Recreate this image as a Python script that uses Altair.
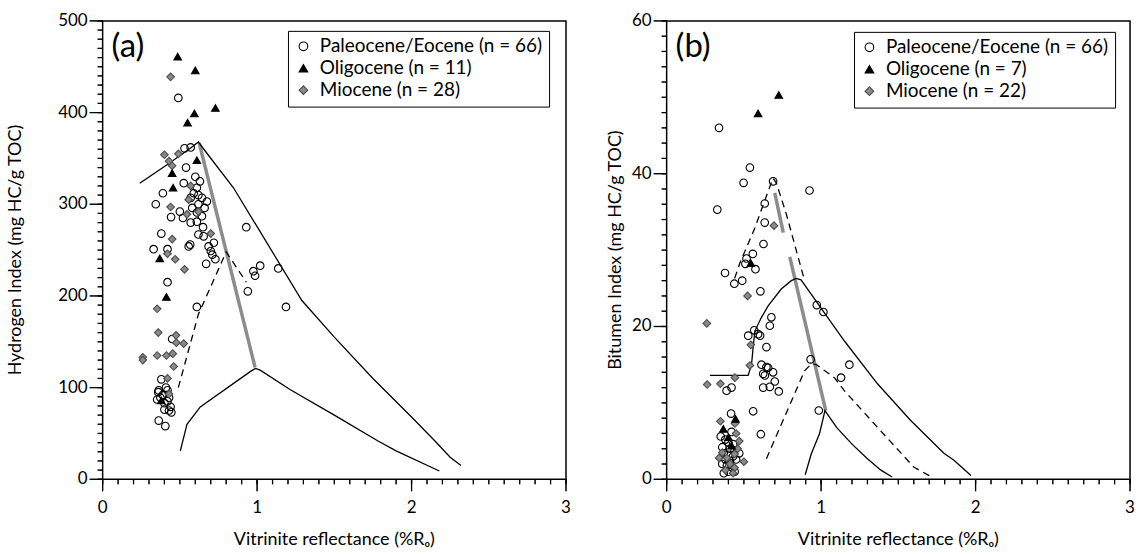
import altair as alt
import pandas as pd

FONT = "Lato"

# ---------------- Panel (a): Hydrogen Index ----------------
a_labels = ["Paleocene/Eocene (n = 66)", "Oligocene (n = 11)", "Miocene (n = 28)"]

a_pal_x = [0.49, 0.53, 0.57, 0.54, 0.525, 0.39, 0.61, 0.59, 0.344, 0.57,
           0.643, 0.675, 0.62, 0.50, 0.443, 0.52, 0.61, 0.643, 0.61, 0.93,
           0.38, 0.62, 0.654, 0.33, 0.42, 0.557, 0.567, 0.686, 0.70, 0.71,
           0.73, 0.67, 0.976, 1.02, 0.987, 1.137, 0.42, 0.94, 1.187, 0.61,
           0.45, 0.38, 0.363, 0.42, 0.43, 0.374, 0.353, 0.40, 0.44, 0.445,
           0.40, 0.363, 0.406, 0.43, 0.60, 0.63, 0.58, 0.66, 0.65, 0.72,
           0.62, 0.57, 0.36, 0.39, 0.42, 0.41]
a_pal_y = [416, 361, 362, 340, 323, 312, 318, 312, 300, 307,
           307, 303, 300, 292, 286, 285, 291, 287, 281, 275,
           268, 267, 265, 251, 251, 254, 256, 254, 249, 245,
           240, 235, 227, 233, 222, 230, 215, 205, 188, 188,
           153, 109, 97, 97, 89, 89, 87, 83, 79, 73,
           76, 64, 58, 75, 330, 325, 296, 296, 275, 258,
           310, 280, 95, 92, 85, 100]

a_oli_x = [0.486, 0.60, 0.73, 0.594, 0.55, 0.61, 0.45, 0.456, 0.37, 0.413, 0.38]
a_oli_y = [461, 446, 405, 399, 389, 348, 334, 318, 241, 199, 86]

a_mio_x = [0.44, 0.40, 0.49, 0.43, 0.45, 0.44, 0.546, 0.62, 0.557, 0.70,
           0.45, 0.42, 0.47, 0.53, 0.353, 0.36, 0.475, 0.477, 0.525, 0.26,
           0.26, 0.353, 0.413, 0.454, 0.46, 0.42, 0.43, 0.57]
a_mio_y = [439, 354, 355, 347, 342, 297, 289, 292, 305, 268,
           262, 246, 240, 229, 186, 160, 157, 149, 148, 133,
           130, 135, 135, 137, 123, 110, 93, 320]

# curves of panel (a)
a_outer_x = [0.24, 0.417, 0.568, 0.62, 0.655, 0.847, 1.29, 1.5, 1.75, 2.0, 2.15, 2.25, 2.32]
a_outer_y = [323, 343, 361, 368, 360, 318, 195, 155, 110, 68, 42, 24, 15]
a_inner_x = [0.503, 0.546, 0.632, 0.96, 0.99, 1.02, 1.213, 1.5, 1.78, 1.9, 2.18]
a_inner_y = [31, 60, 79, 118, 121, 119, 98, 70, 42, 31, 9]
a_dash_x = [0.49, 0.62, 0.80, 0.93]
a_dash_y = [100, 180, 248, 215]
a_gray_x = [0.625, 0.987]
a_gray_y = [367, 122]

# ---------------- Panel (b): Bitumen Index ----------------
b_labels = ["Paleocene/Eocene (n = 66)", "Oligocene (n = 7)", "Miocene (n = 22)"]

b_pal_x = [0.339, 0.539, 0.498, 0.689, 0.925, 0.328, 0.635, 0.635, 0.627, 0.558,
           0.517, 0.51, 0.575, 0.378, 0.438, 0.489, 0.607, 0.972, 1.015, 0.678,
           0.668, 0.567, 0.528, 0.592, 0.605, 0.646, 0.932, 1.183, 0.614, 0.646,
           0.689, 0.625, 1.129, 0.657, 0.636, 0.70, 0.668, 0.625, 0.726, 0.388,
           0.42, 0.985, 0.56, 0.61, 0.417, 0.38, 0.40, 0.43, 0.36, 0.41,
           0.44, 0.37, 0.40, 0.43, 0.38, 0.41, 0.45, 0.36, 0.39, 0.42,
           0.40, 0.44, 0.37, 0.47, 0.35, 0.42]
b_pal_y = [46.0, 40.8, 38.8, 39.0, 37.8, 35.3, 36.1, 33.6, 30.8, 29.5,
           28.9, 28.2, 27.5, 27.0, 25.6, 26.0, 24.6, 22.8, 21.9, 21.2,
           20.1, 19.5, 18.8, 19.0, 18.8, 17.3, 15.7, 15.0, 15.0, 14.7,
           14.0, 13.8, 13.3, 14.6, 13.6, 12.8, 12.1, 12.0, 11.5, 11.6,
           12.0, 9.0, 8.9, 5.9, 8.6, 5.2, 4.8, 4.6, 4.2, 4.0,
           3.8, 3.4, 3.2, 3.0, 2.6, 2.4, 2.6, 2.0, 1.8, 1.6,
           1.0, 1.0, 0.8, 3.4, 5.6, 6.2]

b_oli_x = [0.592, 0.726, 0.545, 0.446, 0.367, 0.40, 0.42]
b_oli_y = [47.9, 50.3, 28.3, 7.9, 6.6, 5.5, 4.4]

b_mio_x = [0.695, 0.524, 0.26, 0.545, 0.539, 0.442, 0.348, 0.262, 0.348, 0.442,
           0.45, 0.47, 0.46, 0.44, 0.39, 0.34, 0.50, 0.41, 0.44, 0.38, 0.36, 0.43]
b_mio_y = [33.2, 24.0, 20.4, 17.6, 14.9, 13.3, 12.5, 12.4, 7.6, 7.3,
           6.0, 5.0, 4.0, 3.3, 2.8, 2.8, 2.3, 2.0, 1.5, 1.2, 3.5, 0.8]

b_outer_x = [0.28, 0.528, 0.55, 0.56, 0.571, 0.614, 0.657, 0.742, 0.807, 0.839, 0.87,
             1.151, 1.365, 1.58, 1.795, 1.86, 1.97]
b_outer_y = [13.6, 13.6, 15.1, 17.3, 19.4, 21.2, 22.7, 24.9, 26.0, 26.3, 26.1,
             18.1, 12.5, 7.7, 3.4, 2.5, 0.5]
b_inner_x = [0.897, 0.936, 0.99, 1.025, 1.1, 1.2, 1.3, 1.387, 1.46]
b_inner_y = [0.6, 3.3, 6.0, 9.0, 6.8, 4.6, 2.7, 1.2, 0.3]
b_dash1_x = [0.44, 0.474, 0.571, 0.657, 0.689, 0.71, 0.775, 0.893]
b_dash1_y = [26.3, 28.3, 32.9, 37.7, 39.4, 38.8, 34.7, 26.0]
b_dash2_x = [0.646, 0.893, 0.936, 0.97, 1.086, 1.15, 1.365, 1.6, 1.716]
b_dash2_y = [2.7, 14.2, 15.1, 15.0, 13.3, 11.6, 6.8, 1.6, 0.3]
b_gray1_x = [0.70, 0.755]
b_gray1_y = [37.5, 32.3]
b_gray2_x = [0.797, 1.03]
b_gray2_y = [29.1, 9.0]

x_major = [0, 1, 2, 3]
x_minor = [round(i * 0.1, 1) for i in range(31)]
x_title = "Vitrinite reflectance (%Rₒ)"

PW, PH = 465, 460


def curve_df(curves):
    rows = []
    for name, xs, ys in curves:
        for i, (xv, yv) in enumerate(zip(xs, ys)):
            rows.append({"curve": name, "i": i, "v": xv, "y": yv})
    return pd.DataFrame(rows)


def build_panel(pal, oli, mio, labels, solid, dashed, gray, ymax, y_major, y_minor,
                y_title, y_title_x, tag, legend_x, legend_y):
    rows = []
    for (xs, ys), lab in [(pal, labels[0]), (mio, labels[2]), (oli, labels[1])]:
        for xv, yv in zip(xs, ys):
            rows.append({"v": xv, "y": yv, "series": lab})
    pts = pd.DataFrame(rows)

    xsc = alt.Scale(domain=[0, 3], nice=False, zero=False)
    ysc = alt.Scale(domain=[0, ymax], nice=False)

    def X():
        return alt.X("v:Q", scale=xsc, axis=None)

    def Y():
        return alt.Y("y:Q", scale=ysc, axis=None)

    leg = alt.Legend(title=None, orient="none", legendX=legend_x, legendY=legend_y,
                     strokeColor="black", fillColor="white", padding=6,
                     rowPadding=2, symbolSize=75, symbolStrokeWidth=1.1,
                     labelOffset=7, labelFontSize=19, labelFont=FONT,
                     labelColor="black", labelLimit=400)

    # tick marks as rules and as tick marks (both just outside the frame)
    def yticks(vals, length):
        df = pd.DataFrame({"y": vals, "k": ["t"] * len(vals)})
        r = alt.Chart(df).mark_rule(color="black", strokeWidth=1.2, clip=False).encode(
            y=Y(), x=alt.value(0), x2=alt.value(-length))
        t = alt.Chart(df).mark_tick(color="black", thickness=1.2, size=length,
                                    orient="horizontal", clip=False).encode(
            y=Y(), x=alt.value(-length / 2))
        return [r, t]

    def xticks(vals, length):
        df = pd.DataFrame({"v": vals, "k": ["t"] * len(vals)})
        r = alt.Chart(df).mark_rule(color="black", strokeWidth=1.2, clip=False).encode(
            x=X(), y=alt.value(PH), y2=alt.value(PH + length))
        t = alt.Chart(df).mark_tick(color="black", thickness=1.2, size=length,
                                    orient="vertical", clip=False).encode(
            x=X(), y=alt.value(PH + length / 2))
        return [r, t]

    ylab = alt.Chart(pd.DataFrame({"y": y_major, "t": [str(v) for v in y_major]})).mark_text(
        align="right", baseline="middle", fontSize=17, font=FONT, color="black"
    ).encode(y=Y(), x=alt.value(-15), text="t:N")

    xlab = alt.Chart(pd.DataFrame({"v": x_major, "t": [str(v) for v in x_major]})).mark_text(
        align="center", baseline="middle", fontSize=17, font=FONT, color="black"
    ).encode(x=X(), y=alt.value(PH + 29), text="t:N")

    ytit = alt.Chart(pd.DataFrame({"t": [y_title]})).mark_text(
        align="center", baseline="middle", fontSize=18, font=FONT, color="black", angle=270
    ).encode(x=alt.value(y_title_x), y=alt.value(PH / 2), text="t:N")

    xtit = alt.Chart(pd.DataFrame({"t": [x_title]})).mark_text(
        align="center", baseline="middle", fontSize=18, font=FONT, color="black"
    ).encode(x=alt.value(PW / 2), y=alt.value(PH + 61), text="t:N")

    def line_layer(df, **kw):
        return alt.Chart(df).mark_line(**kw).encode(
            x=X(), y=Y(), detail="curve:N", order="i:Q")

    solid_l = line_layer(curve_df(solid), color="black", strokeWidth=1.3)
    dash_l = line_layer(curve_df(dashed), color="black", strokeWidth=1.3, strokeDash=[7, 5])
    gray_l = line_layer(curve_df(gray), color="#8c8c8c", strokeWidth=3.5)

    main = alt.Chart(pts).mark_point(filled=True, size=58, strokeWidth=1.1, opacity=1).encode(
        x=X(), y=Y(),
        shape=alt.Shape("series:N", scale=alt.Scale(domain=labels, range=["circle", "triangle-up", "diamond"]), legend=leg),
        fill=alt.Fill("series:N", scale=alt.Scale(domain=labels, range=["transparent", "black", "#8a8a8a"]), legend=leg),
        stroke=alt.Stroke("series:N", scale=alt.Scale(domain=labels, range=["black", "black", "#4d4d4d"]), legend=leg),
    )

    tag_l = alt.Chart(pd.DataFrame({"t": [tag]})).mark_text(
        align="left", baseline="middle", fontSize=33, font=FONT, color="black"
    ).encode(text="t:N", x=alt.value(9), y=alt.value(26))

    tick_layers = (yticks(y_minor, 5) + yticks(y_major, 13)
                   + xticks(x_minor, 5) + xticks(x_major, 12))

    return alt.layer(
        ylab, xlab, ytit, xtit,
        gray_l, solid_l, dash_l, main, tag_l,
        *tick_layers,
    ).properties(width=PW, height=PH)


panel_a = build_panel(
    (a_pal_x, a_pal_y), (a_oli_x, a_oli_y), (a_mio_x, a_mio_y), a_labels,
    solid=[("outer", a_outer_x, a_outer_y), ("inner", a_inner_x, a_inner_y)],
    dashed=[("dash", a_dash_x, a_dash_y)],
    gray=[("gray", a_gray_x, a_gray_y)],
    ymax=500, y_major=[0, 100, 200, 300, 400, 500], y_minor=list(range(0, 501, 10)),
    y_title="Hydrogen Index (mg HC/g TOC)", y_title_x=-87, tag="(a)",
    legend_x=186, legend_y=10,
)

panel_b = build_panel(
    (b_pal_x, b_pal_y), (b_oli_x, b_oli_y), (b_mio_x, b_mio_y), b_labels,
    solid=[("outer", b_outer_x, b_outer_y), ("inner", b_inner_x, b_inner_y)],
    dashed=[("d1", b_dash1_x, b_dash1_y), ("d2", b_dash2_x, b_dash2_y)],
    gray=[("g1", b_gray1_x, b_gray1_y), ("g2", b_gray2_x, b_gray2_y)],
    ymax=60, y_major=[0, 20, 40, 60], y_minor=list(range(0, 61, 2)),
    y_title="Bitumen Index (mg HC/g TOC)", y_title_x=-51, tag="(b)",
    legend_x=188, legend_y=11,
)

chart = alt.hconcat(panel_a, panel_b, spacing=101, bounds="flush").resolve_scale(
    shape="independent", fill="independent", stroke="independent"
).resolve_legend(
    shape="independent", fill="independent", stroke="independent"
).properties(
    padding={"left": 6, "top": 10, "right": 0, "bottom": 2}
).configure_view(
    stroke="black", strokeWidth=1.5
)

chart.save("out.html", embed_options={"renderer": "svg", "actions": False})
